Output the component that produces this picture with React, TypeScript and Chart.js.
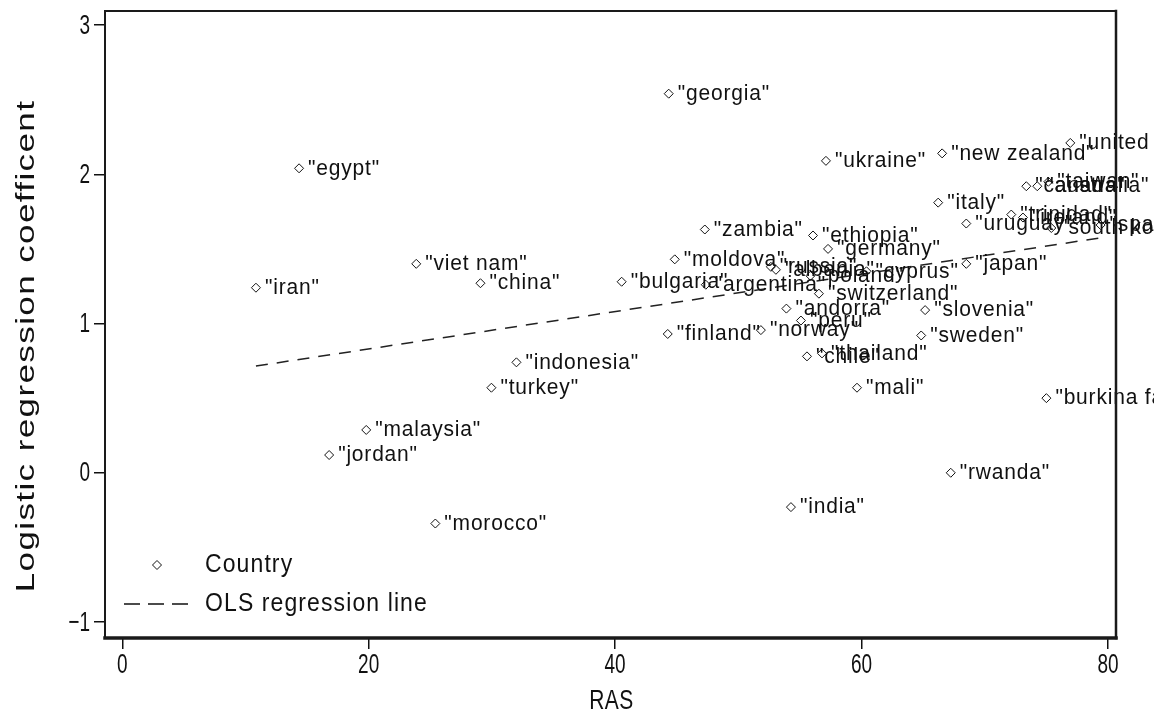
import React, { useEffect, useRef } from "react";
import { Chart, registerables } from "chart.js";

Chart.register(...registerables);

// Country points: religion-and-state score (RAS) vs. logistic regression coefficient
const countryNames = [
  "georgia", "egypt", "iran", "viet nam", "china", "bulgaria", "zambia", "moldova",
  "argentina", "indonesia", "turkey", "malaysia", "jordan", "morocco", "finland",
  "norway", "india", "mali", "ukraine", "new zealand", "united states", "italy",
  "ethiopia", "germany", "japan", "slovenia", "sweden", "burkina faso", "rwanda",
  "uruguay", "andorra", "peru", "switzerland", "chile", "thailand", "russia",
  "albania", "poland", "cyprus", "canada", "australia", "taiwan", "trinidad",
  "ireland", "spain", "south korea",
];
const rasValues = [
  44.35, 14.35, 10.85, 23.86, 29.07, 40.53, 47.28, 44.84,
  47.36, 31.99, 29.96, 19.8, 16.79, 25.41, 44.27,
  51.83, 54.27, 59.63, 57.11, 66.54, 76.94, 66.22,
  56.06, 57.28, 68.5, 65.16, 64.84, 75.0, 67.24,
  68.5, 53.9, 55.08, 56.54, 55.57, 56.79, 52.64,
  53.05, 55.85, 60.4, 73.37, 74.26, 75.16, 72.15,
  73.1, 79.4, 75.4,
];
const coefValues = [
  2.54, 2.04, 1.24, 1.4, 1.27, 1.28, 1.63, 1.43,
  1.26, 0.74, 0.57, 0.287, 0.119, -0.34, 0.93,
  0.956, -0.23, 0.57, 2.09, 2.14, 2.21, 1.81,
  1.59, 1.5, 1.4, 1.09, 0.92, 0.5, 0.0,
  1.67, 1.1, 1.02, 1.2, 0.78, 0.8, 1.38,
  1.36, 1.32, 1.35, 1.92, 1.92, 1.95, 1.73,
  1.71, 1.66, 1.64,
];

// Fitted OLS line at its two ends
const olsX = [10.85, 79.4];
const olsY = [0.715, 1.574];

const xTickValues = [0, 20, 40, 60, 80];
const yTickValues = [-1, 0, 1, 2, 3];

const xTitle = "RAS";
const yTitle = "Logistic regression coefficent";
const legendLabels = ["Country", "OLS regression line"];

const FONT = "'Liberation Sans', Arial, Helvetica, sans-serif";
const INK = "#111";

type TextOpts = {
  size: number;
  stretch?: number; // vertical stretch of the glyphs
  spacing?: number;
  align?: CanvasTextAlign;
};

// Draw text with tall, slightly spaced glyphs
function drawText(ctx: CanvasRenderingContext2D, text: string, x: number, y: number, o: TextOpts) {
  ctx.save();
  ctx.font = `${o.size}px ${FONT}`;
  (ctx as any).letterSpacing = `${o.spacing ?? 0}px`;
  ctx.fillStyle = INK;
  ctx.textAlign = o.align ?? "left";
  ctx.textBaseline = "middle";
  ctx.translate(x, y);
  ctx.scale(1, o.stretch ?? 1);
  ctx.fillText(text, 0, 0);
  ctx.restore();
}

const labelPlugin = {
  id: "pointLabels",
  afterDatasetsDraw(chart: any) {
    const meta = chart.getDatasetMeta(0);
    meta.data.forEach((pt: any, i: number) => {
      drawText(chart.ctx, `"${countryNames[i]}"`, pt.x + 9, pt.y, { size: 21, spacing: 0.8, stretch: 1.08 });
    });
  },
};

const tickLabelPlugin = {
  id: "tickLabels",
  afterDraw(chart: any) {
    const { ctx, scales } = chart;
    xTickValues.forEach((v) => {
      drawText(ctx, String(v), scales.x.getPixelForValue(v), 665, { size: 19, stretch: 1.45, align: "center" });
    });
    yTickValues.forEach((v) => {
      const label = v < 0 ? `\u2212${Math.abs(v)}` : String(v);
      drawText(ctx, label, 90, scales.y.getPixelForValue(v) + 1, { size: 19, stretch: 1.45, align: "right" });
    });
  },
};

const framePlugin = {
  id: "frame",
  afterDraw(chart: any) {
    const { ctx, chartArea } = chart;
    const { left, right, top, bottom } = chartArea;
    ctx.save();
    ctx.strokeStyle = "#1a1a1a";
    ctx.lineCap = "square";
    ctx.lineWidth = 2;
    ctx.beginPath();
    ctx.moveTo(left, bottom);
    ctx.lineTo(left, top);
    ctx.lineTo(right, top);
    ctx.stroke();
    ctx.lineWidth = 2.5;
    ctx.beginPath();
    ctx.moveTo(right, top);
    ctx.lineTo(right, bottom);
    ctx.stroke();
    ctx.lineWidth = 3.5;
    ctx.beginPath();
    ctx.moveTo(left, bottom);
    ctx.lineTo(right, bottom);
    ctx.stroke();
    ctx.restore();
  },
};

const titlePlugin = {
  id: "axisTitles",
  afterDraw(chart: any) {
    const { ctx, chartArea } = chart;
    drawText(ctx, xTitle, (chartArea.left + chartArea.right) / 2 + 1, 701, { size: 21, stretch: 1.35, spacing: 0.5, align: "center" });
    // vertical title: glyphs stretched along the reading direction
    ctx.save();
    ctx.font = `25px ${FONT}`;
    (ctx as any).letterSpacing = "1px";
    ctx.fillStyle = INK;
    ctx.textAlign = "center";
    ctx.textBaseline = "middle";
    ctx.translate(27, 346);
    ctx.rotate(-Math.PI / 2);
    ctx.scale(1.4, 1);
    ctx.fillText(yTitle, 0, 0);
    ctx.restore();
  },
};

const legendPlugin = {
  id: "insideLegend",
  afterDraw(chart: any) {
    const { ctx, chartArea } = chart;
    const x0 = chartArea.left;
    const b = chartArea.bottom;
    const mx = x0 + 52;
    const my = b - 73;
    ctx.save();
    ctx.strokeStyle = INK;
    ctx.lineWidth = 1;
    ctx.beginPath();
    ctx.moveTo(mx, my - 4.5);
    ctx.lineTo(mx + 4.5, my);
    ctx.lineTo(mx, my + 4.5);
    ctx.lineTo(mx - 4.5, my);
    ctx.closePath();
    ctx.stroke();
    ctx.lineWidth = 1.5;
    ctx.setLineDash([16, 8]);
    ctx.beginPath();
    ctx.moveTo(x0 + 19, b - 34);
    ctx.lineTo(x0 + 83, b - 34);
    ctx.stroke();
    ctx.restore();
    drawText(ctx, legendLabels[0], x0 + 100, my, { size: 23, spacing: 1.1, stretch: 1.15 });
    drawText(ctx, legendLabels[1], x0 + 100, b - 34, { size: 23, spacing: 1.1, stretch: 1.15 });
  },
};

export default function App() {
  const ref = useRef<HTMLCanvasElement | null>(null);

  useEffect(() => {
    if (!ref.current) return;
    const points = countryNames.map((_, i) => ({ x: rasValues[i], y: coefValues[i] }));
    const ols = olsX.map((x, i) => ({ x, y: olsY[i] }));

    const chart = new Chart(ref.current, {
      type: "scatter",
      data: {
        datasets: [
          {
            label: legendLabels[0],
            data: points,
            pointStyle: "rectRot",
            pointRadius: 4.5,
            pointBorderWidth: 1,
            pointBorderColor: INK,
            pointBackgroundColor: "rgba(0,0,0,0)",
            showLine: false,
            clip: false as any,
          },
          {
            type: "line",
            label: legendLabels[1],
            data: ols,
            borderColor: "#222",
            borderWidth: 1.5,
            borderDash: [12, 9],
            pointRadius: 0,
            fill: false,
          } as any,
        ],
      },
      options: {
        animation: false,
        responsive: true,
        maintainAspectRatio: false,
        layout: { padding: { top: 11, right: 38, left: 0, bottom: 0 } },
        plugins: {
          legend: { display: false },
          tooltip: { enabled: false },
        },
        scales: {
          x: {
            type: "linear",
            min: -1.4,
            max: 80.65,
            afterBuildTicks(scale: any) {
              scale.ticks = xTickValues.map((v) => ({ value: v }));
            },
            afterFit(scale: any) {
              scale.height = 83;
              scale.paddingLeft = 0;
              scale.paddingRight = 0;
            },
            grid: {
              drawOnChartArea: false,
              drawTicks: true,
              tickLength: 11,
              color: INK,
              lineWidth: 1.5,
            },
            border: { display: false },
            ticks: { display: false },
          },
          y: {
            type: "linear",
            min: -1.107,
            max: 3.094,
            afterBuildTicks(scale: any) {
              scale.ticks = yTickValues.map((v) => ({ value: v }));
            },
            afterFit(scale: any) {
              scale.width = 105;
              scale.paddingTop = 0;
              scale.paddingBottom = 0;
            },
            grid: {
              drawOnChartArea: false,
              drawTicks: true,
              tickLength: 11,
              color: INK,
              lineWidth: 1.5,
            },
            border: { display: false },
            ticks: { display: false },
          },
        },
      },
      plugins: [labelPlugin, framePlugin, tickLabelPlugin, titlePlugin, legendPlugin],
    });
    return () => chart.destroy();
  }, []);

  return (
    <div style={{ position: "absolute", left: 0, top: 0, width: 1154, height: 721, background: "#fff" }}>
      <canvas ref={ref} />
    </div>
  );
}
